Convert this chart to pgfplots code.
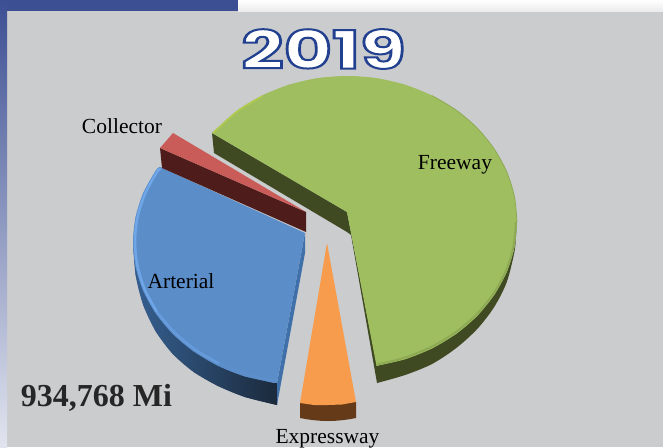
\documentclass[border=0pt]{standalone}
\usepackage{pgfplots}
\pgfplotsset{compat=1.18}
\usepackage{fontspec}
\setmainfont{Liberation Serif}
\newfontfamily\titlefont{Poppins}[BoldFont={Poppins Bold}]
\definecolor{bgc}{HTML}{CBCCCE}
\definecolor{bar}{HTML}{3C4F93}
\definecolor{grn}{HTML}{9FBE60}
\definecolor{grnd}{HTML}{3F4A22}
\definecolor{grne}{HTML}{8FAA55}
\definecolor{blu}{HTML}{5B8DC9}
\definecolor{blul}{HTML}{6EA6E8}
\definecolor{blus}{HTML}{3F70AA}
\definecolor{red1}{HTML}{C95C58}
\definecolor{red2}{HTML}{4E1D1B}
\definecolor{org}{HTML}{F79C4C}
\definecolor{orgd}{HTML}{653A19}
\begin{document}
\begin{tikzpicture}
\begin{axis}[width=663pt,height=447pt,scale only axis,hide axis,
  xmin=0,xmax=663,ymin=0,ymax=447,y dir=reverse,clip=true,
  every axis plot/.append style={line join=round}]
% background
\addplot[fill=bgc,draw=none] coordinates {(0,0)(663,0)(663,447)(0,447)};
\addplot[draw=none,shade,top color=white,bottom color=white!85!gray] coordinates {(238,0)(663,0)(663,11)(238,11)};
\addplot[fill=bar,draw=none] coordinates {(0,0)(238,0)(238,11)(0,11)};
\addplot[draw=none,shade,top color=bar,middle color=bar!40!white!85!violet,bottom color=bar!15!white] coordinates {(0,0)(7,0)(7,447)(0,447)};
% Freeway sides
\addplot[fill=grnd,draw=none] coordinates {(212,133)(347,212)(347,232)(214,153)};
\addplot[fill=grnd,draw=none] coordinates {(347,212)(377,366)(377,383)(351,235)(347,232)};
\addplot[fill=grnd,draw=none,smooth] coordinates {(517,222)(516,236)(514.4,252)(506.8,282)(494.2,307)(477.2,329)(456.3,348)(432,364)(405.1,375)(377,383)};
\addplot[fill=grnd,draw=none] coordinates {(377,383)(377,366)(432,340)(456.3,340)};
% Freeway top
\addplot[fill=grn,draw=none] coordinates {(347,212)(212,133)(237.7,110.2)(262,95.6)(288.9,84.8)(317.5,78.2)(347,76)(376.5,78.2)(405.1,84.8)(432,95.6)(456.3,110.2)(477.2,128.1)(494.2,149)(506.8,172.1)(514.4,196.6)(517,222)(514.4,247.4)(506.8,271.9)(494.2,295)(477.2,315.9)(456.3,333.8)(432,348.4)(405.1,359.2)(376.5,365.8)};
\addplot[fill=grn,draw=none,smooth] coordinates {(212,133)(237.7,110.2)(262,95.6)(288.9,84.8)(317.5,78.2)(347,76)(376.5,78.2)(405.1,84.8)(432,95.6)(456.3,110.2)(477.2,128.1)(494.2,149)(506.8,172.1)(514.4,196.6)(517,222)};
\addplot[fill=grn,draw=none,smooth] coordinates {(517,222)(514.4,247.4)(506.8,271.9)(494.2,295)(477.2,315.9)(456.3,333.8)(432,348.4)(405.1,359.2)(376.5,365.8)};
\addplot[draw=grne,line width=2pt,smooth] coordinates {(516,222)(513.4,247)(505.8,271)(493.2,294)(476.2,314.5)(455.3,332.5)(431,347)(404.1,357.8)(377,364.5)};
\addplot[draw=grne,line width=0.8pt,smooth] coordinates {(432,95.6)(456.3,110.2)(477.2,128.1)(494.2,149)(506.8,172.1)(514.4,196.6)(517,222)};
\addplot[draw=grn!80!yellow,line width=1.5pt,smooth] coordinates {(213,133)(237.7,111)(262,96.5)};
% Arterial sides
\addplot[draw=none,shade,left color=blus!85!black,right color=blu!30!black] coordinates {(133,242)(135.6,275)(143.2,305)(155.8,331.5)(172.8,354)(193.7,372)(218,386)(244.9,397)(277,405)(277,383)};
\addplot[draw=none,smooth,shade,left color=blus!85!black,right color=blu!30!black] coordinates {(133,242)(135.6,275)(143.2,305)(155.8,331.5)(172.8,354)(193.7,372)(218,386)(244.9,397)(277,405)};
\addplot[fill=blus,draw=none] coordinates {(305,233)(277,383)(277,405)(305,253)};
% Arterial top
\addplot[fill=blu,draw=none] coordinates {(305,233)(160,167)(155.8,170.5)(143.2,193.1)(135.6,217.1)(133,242)(135.6,266.8)(143.2,290.9)(155.8,313.5)(172.8,334)(193.7,351.5)(218,365.8)(244.9,376.4)(273.4,382.9)(277,383)};
\addplot[fill=blu,draw=none,smooth] coordinates {(160,167)(155.8,170.5)(143.2,193.1)(135.6,217.1)(133,242)(135.6,266.8)(143.2,290.9)(155.8,313.5)(172.8,334)(193.7,351.5)(218,365.8)(244.9,376.4)(277,383)};
\addplot[draw=blul,line width=2.5pt,smooth] coordinates {(161,169)(157,172)(145,194)(137.5,217.5)(135,242)(137.5,266)(145,290)(157,312)};
\addplot[draw=blul!60!blu,line width=2.5pt,smooth] coordinates {(157,312)(174,332)(195,349.5)(219,363.5)};
\addplot[draw=blu!90!blul,line width=2pt,smooth] coordinates {(219,363.5)(246,374)(276,381)};
% Collector
\addplot[fill=red2,draw=none] coordinates {(160,148)(162,168)(306,232)(306,212)};
\addplot[fill=red1,draw=none] coordinates {(173,133)(160,148)(306,212)};
% Expressway
\addplot[fill=orgd,draw=none] coordinates {(300,402)(300,418)(307,419.3)(314,420.2)(321,420.8)(328,421)(335,420.8)(342,420.2)(349,419.3)(356,418)(356,402)};
\addplot[fill=org,draw=none] coordinates {(327,243)(300,403)(314,405)(328,405)(342,404.5)(356,402)};
% labels
\node[font=\fontsize{21.5}{24}\selectfont,anchor=base] at (axis cs:122,133) {Collector};
\node[font=\fontsize{21.5}{24}\selectfont,anchor=base] at (axis cs:455,169) {Freeway};
\node[font=\fontsize{21.5}{24}\selectfont,anchor=base] at (axis cs:181,288) {Arterial};
\node[font=\fontsize{21.5}{24}\selectfont,anchor=base] at (axis cs:327.5,443) {Expressway};
\node[font=\fontsize{32}{36}\selectfont\bfseries,text=black!85,anchor=base] at (axis cs:96.5,406) {934,768 Mi};
\node[font=\titlefont\bfseries\fontsize{53}{55}\selectfont,xscale=1.4] at (axis cs:323.5,49)
  {\special{pdf:code q 2 Tr 2 w 0.13 0.25 0.56 RG 1 1 1 rg}2019\special{pdf:code Q}};
\end{axis}
\end{tikzpicture}
\end{document}
